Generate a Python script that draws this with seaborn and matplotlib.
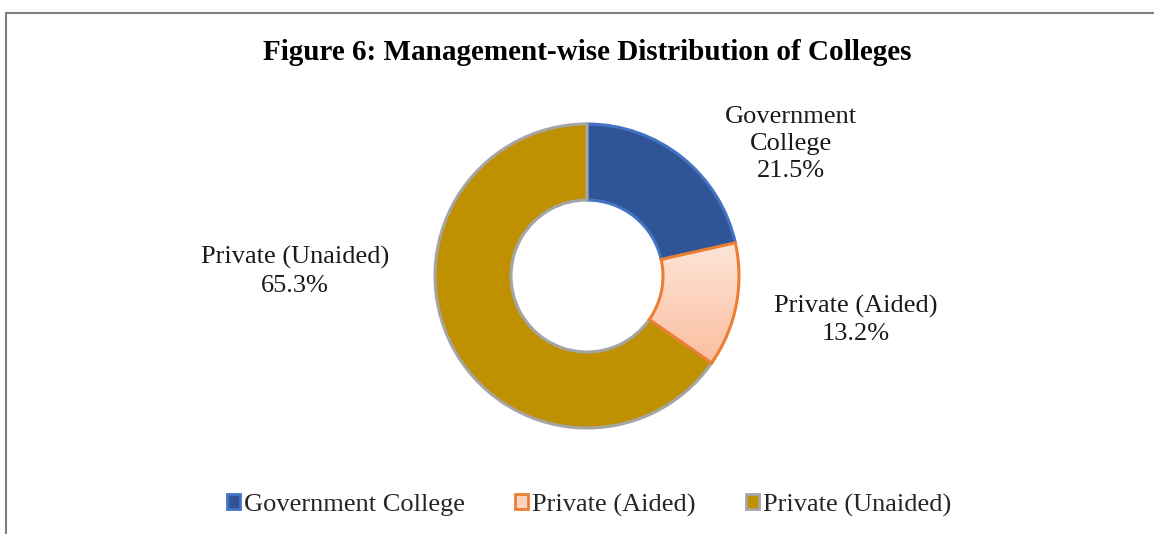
import numpy as np
import matplotlib.pyplot as plt
import seaborn as sns
from matplotlib.colors import LinearSegmentedColormap
from matplotlib.lines import Line2D
from matplotlib.patches import Patch

categories = ['Government College', 'Private (Aided)', 'Private (Unaided)']
shares = [21.5, 13.2, 65.3]
label_text = ['Government\nCollege', 'Private (Aided)', 'Private (Unaided)']

fill_colors = ['#2F5597', '#FDD3BF', '#BF9000']
edge_colors = ['#4472C4', '#ED7D31', '#A5A5A5']

sns.set_theme(style='white')
plt.rcParams['font.family'] = ['Liberation Serif', 'DejaVu Serif']

W, H = 1154, 534
fig = plt.figure(figsize=(W / 100, H / 100), dpi=100)
ax = fig.add_axes([0, 0, 1, 1])

wedges, _ = ax.pie(shares, startangle=90, counterclock=False, radius=1,
                   colors=fill_colors,
                   wedgeprops=dict(width=0.5, linewidth=2.2))
for w, ec in zip(wedges, edge_colors):
    w.set_edgecolor(ec)

# soft gradient on the aided slice
grad = LinearSegmentedColormap.from_list('peach', ['#FBB896', '#FEE6DB'])
img = ax.imshow(np.linspace(0, 1, 256).reshape(-1, 1), cmap=grad,
                extent=[0, 1.05, -0.7, 0.25], origin='lower', aspect='auto',
                zorder=wedges[1].get_zorder())
img.set_clip_path(wedges[1])
wedges[1].set_zorder(img.get_zorder() + 0.1)
wedges[1].set_facecolor('none')

# 1 data unit = outer radius in px, donut centre in px
R, cx, cy = 152, 587, 258
ax.set_xlim(-cx / R, (W - cx) / R)
ax.set_ylim(-cy / R, (H - cy) / R)
ax.set_aspect('equal')
ax.axis('off')

# data labels (positions in radius units)
label_pos = [(1.34, 0.87), (1.77, -0.29), (-1.92, 0.03)]
for txt, val, (lx, ly) in zip(label_text, shares, label_pos):
    ax.text(lx, ly, f'{txt}\n{val}%', ha='center', va='center',
            fontsize=19, color='#1a1a1a', linespacing=1.3)

fig.text(587 / W, 1 - 52 / H, 'Figure 6: Management-wise Distribution of Colleges',
         ha='center', va='center', fontsize=21, fontweight='bold', color='black')

handles = [Patch(facecolor=f, edgecolor=e, linewidth=2) for f, e in zip(fill_colors, edge_colors)]
fig.legend(handles, categories, loc='center', bbox_to_anchor=(589 / W, 1 - 505 / H),
           ncol=3, frameon=False, fontsize=19, handlelength=0.5, handleheight=0.5,
           handletextpad=0.15, columnspacing=1.9)

# chart frame (left and top edges)
fig.add_artist(Line2D([6 / W, 6 / W], [0, 1 - 13 / H], transform=fig.transFigure,
                      color='#7f7f7f', linewidth=1.5))
fig.add_artist(Line2D([6 / W, 1], [1 - 13 / H, 1 - 13 / H], transform=fig.transFigure,
                      color='#7f7f7f', linewidth=1.5))

fig.savefig('out.png', dpi=100)
